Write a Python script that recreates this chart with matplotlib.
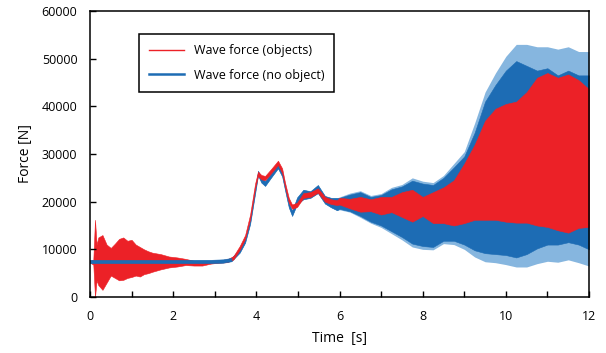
import matplotlib.pyplot as plt
from matplotlib.lines import Line2D
import numpy as np

plt.rcParams['font.family'] = ['Open Sans', 'DejaVu Sans']
plt.rcParams['font.size'] = 9

# envelope of the "objects" series
t_red = [0, 0.08, 0.12, 0.16, 0.2, 0.3, 0.4, 0.5, 0.6, 0.7,
         0.8, 0.9, 1.0, 1.1, 1.2, 1.3, 1.4, 1.5, 1.7, 1.9,
         2.1, 2.3, 2.5, 2.7, 2.9, 3.1, 3.3, 3.45, 3.6, 3.73,
         3.85, 3.97, 4.04, 4.12, 4.21, 4.35, 4.52, 4.62, 4.69, 4.78,
         4.86, 4.98, 5.13, 5.3, 5.48, 5.65, 5.8, 5.94, 6.0, 6.25,
         6.5, 6.75, 7.0, 7.25, 7.5, 7.75, 8.0, 8.25, 8.5, 8.75,
         9.0, 9.25, 9.5, 9.75, 10.0, 10.25, 10.5, 10.75, 11.0, 11.25,
         11.5, 11.75, 12.0]
red_hi = [7600, 7800, 16200, 11000, 12500, 13000, 11000, 10300, 11200, 12200,
          12500, 11800, 12000, 11000, 10500, 10000, 9600, 9300, 9000, 8500,
          8300, 8000, 7600, 7500, 7600, 7700, 7900, 8600, 10700, 13000,
          17300, 23800, 26300, 25600, 25400, 26800, 28600, 27000, 24000, 20800,
          19400, 19800, 21800, 22000, 22800, 21000, 20500, 20300, 20800, 20600,
          21000, 20500, 21000, 21000, 22000, 22500, 21000, 22000, 23000, 24500,
          28000, 32000, 37000, 39500, 40500, 41000, 43000, 46000, 47000, 46000,
          46700, 45500, 43600]
red_lo = [7200, 6800, 0, 3500, 2500, 1500, 3000, 4500, 4000, 3500,
          3600, 4000, 4200, 4500, 4300, 4800, 5000, 5300, 5800, 6200,
          6400, 6700, 6600, 6600, 7000, 7200, 7300, 7900, 9900, 12200,
          16300, 22800, 25400, 24700, 24500, 25900, 27700, 26000, 23000, 19800,
          18500, 18900, 20800, 21000, 21900, 20000, 19500, 19300, 19400, 18600,
          17900, 18000, 17300, 17800, 16800, 15800, 17000, 15500, 15500, 15000,
          15500, 16200, 16200, 16200, 15800, 15600, 15600, 15000, 14700, 14000,
          13500, 14500, 14700]

# envelope of the "no object" series
t_blue = [0, 1, 2, 2.9, 3.2, 3.4, 3.6, 3.73, 3.85, 3.97,
          4.04, 4.12, 4.21, 4.35, 4.52, 4.62, 4.69, 4.78, 4.86, 4.98,
          5.13, 5.3, 5.48, 5.65, 5.8, 5.94, 6.0, 6.25, 6.5, 6.75,
          7.0, 7.25, 7.5, 7.75, 8.0, 8.25, 8.5, 8.75, 9.0, 9.25,
          9.5, 9.75, 10.0, 10.25, 10.5, 10.75, 11.0, 11.25, 11.5, 11.75,
          12.0]
blue_hi = [7800, 7800, 7800, 7800, 7900, 8200, 10100, 12200, 16300, 22700,
           26500, 25000, 24300, 26000, 28000, 26300, 23400, 19800, 18100, 20900,
           22500, 22200, 23500, 21200, 20800, 20800, 21000, 21800, 22300, 21300,
           21700, 23000, 23600, 25000, 24300, 24000, 25500, 28000, 30500, 36500,
           43000, 47000, 50500, 53000, 53000, 52500, 52500, 52000, 52500, 51500,
           51500]
blue_lo = [7100, 7100, 7100, 7100, 7200, 7500, 9300, 11400, 15300, 21700,
           25500, 24000, 23300, 25000, 27000, 25300, 22400, 18800, 17000, 19500,
           20500, 20800, 21800, 19600, 18800, 18200, 18300, 17800, 16700, 15500,
           14600, 13300, 12000, 10500, 10000, 9900, 11200, 11000, 10000, 8400,
           7400, 7200, 6800, 6300, 6300, 7000, 7500, 7300, 7800, 7200,
           6500]
# darker core of the blue band (from 3.4 s on)
t_core = [3.4, 3.6, 3.73, 3.85, 3.97, 4.04, 4.12, 4.21, 4.35, 4.52,
          4.62, 4.69, 4.78, 4.86, 4.98, 5.13, 5.3, 5.48, 5.65, 5.8,
          5.94, 6.0, 6.25, 6.5, 6.75, 7.0, 7.25, 7.5, 7.75, 8.0,
          8.25, 8.5, 8.75, 9.0, 9.25, 9.5, 9.75, 10.0, 10.25, 10.5,
          10.75, 11.0, 11.25, 11.5, 11.75, 12.0]
core_hi = [8200, 10100, 12200, 16300, 22700, 26500, 25000, 24300, 26000, 28000,
           26300, 23400, 19800, 18100, 20900, 22500, 22200, 23500, 21200, 20800,
           20800, 20800, 21500, 22000, 21000, 21400, 22600, 23200, 24400, 23800,
           23500, 25000, 27200, 29500, 34500, 41000, 44500, 47500, 49500, 48500,
           47500, 48000, 46500, 47500, 46500, 46500]
core_lo = [7500, 9300, 11400, 15300, 21700, 25500, 24000, 23300, 25000, 27000,
           25300, 22400, 18800, 17000, 19500, 20500, 20800, 21800, 19600, 18800,
           18200, 18500, 18000, 17000, 15800, 15000, 13800, 12600, 11200, 10700,
           10500, 11800, 11800, 11000, 9800, 9200, 9000, 8800, 8300, 9000,
           10200, 11000, 11000, 11500, 11000, 10000]

fig = plt.figure(figsize=(6.06, 3.53), dpi=100)
ax = fig.add_axes([0.1485, 0.1586, 0.8235, 0.8102])

blue_dark = '#1d6cb4'
blue_light = '#86b6df'
red = '#ec2127'

# before the rise the blue line lies on top of the red band, after it behind
n_top = t_blue.index(3.4) + 1
ax.fill_between(t_blue, blue_lo, blue_hi, color=blue_light, lw=0)
ax.fill_between(t_core, core_lo, core_hi, color=blue_dark, lw=0.4, edgecolor=blue_dark)
ax.fill_between(t_red, red_lo, red_hi, color=red, lw=0.4, edgecolor=red)
ax.fill_between(t_blue[:n_top], blue_lo[:n_top], blue_hi[:n_top],
                color=blue_dark, lw=0.4, edgecolor=blue_dark)

ax.set_xlim(0, 12)
ax.set_ylim(0, 60000)
ax.set_xticks(np.arange(0, 13, 2))
ax.set_xticks(np.arange(0, 13, 1), minor=True)
ax.set_yticks(np.arange(0, 60001, 10000))
ax.tick_params(axis='both', which='both', direction='in', length=4, width=1)
ax.tick_params(axis='x', which='major', pad=9)
ax.tick_params(axis='y', which='major', pad=9)
for s in ax.spines.values():
    s.set_linewidth(1.1)

ax.set_xlabel('Time  [s]', fontsize=10, labelpad=6)
ax.set_ylabel('Force [N]', fontsize=10, labelpad=6)

handles = [Line2D([], [], color=red, lw=1),
           Line2D([], [], color=blue_dark, lw=1.8)]
leg = ax.legend(handles, ['Wave force (objects)', 'Wave force (no object)'],
                loc='upper left', bbox_to_anchor=(0.085, 0.94), fancybox=False,
                framealpha=1, edgecolor='black', handlelength=2.8,
                borderpad=0.8, labelspacing=0.9, fontsize=9)
leg.get_frame().set_linewidth(1.1)

plt.savefig('out.png', dpi=100)
